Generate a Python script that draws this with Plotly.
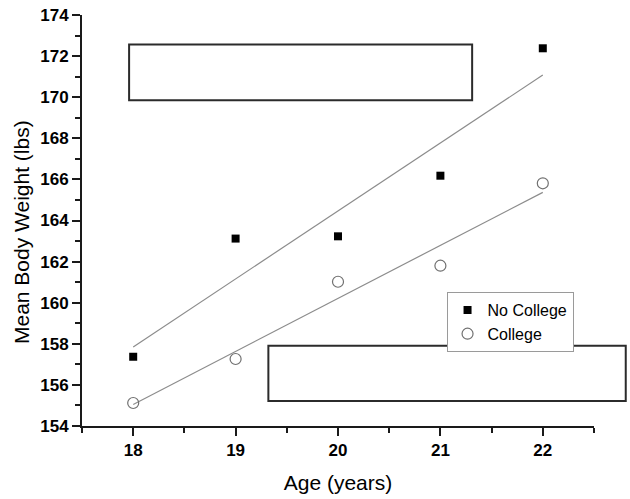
import plotly.graph_objects as go

# Data
ages = [18, 19, 20, 21, 22]
no_college = [157.37, 163.12, 163.23, 166.18, 172.38]
college = [155.12, 157.26, 161.02, 161.80, 165.81]

# Linear-fit end points (as drawn in the reference)
fit_ages = [18, 22]
fit_no_college = [157.85, 171.08]
fit_college = [155.05, 165.37]

FONT = "Arial, Liberation Sans, sans-serif"

fig = go.Figure()

# fit lines
fig.add_trace(go.Scatter(
    x=fit_ages, y=fit_no_college, mode="lines",
    line=dict(color="#8c8c8c", width=1.2), showlegend=False, hoverinfo="skip",
))
fig.add_trace(go.Scatter(
    x=fit_ages, y=fit_college, mode="lines",
    line=dict(color="#8c8c8c", width=1.2), showlegend=False, hoverinfo="skip",
))

# data points
fig.add_trace(go.Scatter(
    x=ages, y=no_college, mode="markers", name="No College",
    marker=dict(symbol="square", size=8, color="#000000", line=dict(width=0)),
))
fig.add_trace(go.Scatter(
    x=ages, y=college, mode="markers", name="College",
    marker=dict(symbol="circle-open", size=11, color="#707070", line=dict(width=1.2)),
))

# empty (blanked) boxes from the original figure
box_line = dict(color="#2b2b2b", width=2)
fig.add_shape(type="rect", xref="paper", yref="paper",
              x0=0.092, x1=0.762, y0=0.7925, y1=0.928,
              line=box_line, fillcolor="white", layer="above")
fig.add_shape(type="rect", xref="paper", yref="paper",
              x0=0.364, x1=1.062, y0=0.061, y1=0.195,
              line=box_line, fillcolor="white", layer="above")

# y title as an annotation so it sits where the original has it
fig.add_annotation(
    text="Mean Body Weight (lbs)", textangle=-90,
    xref="paper", yref="paper", x=0, y=0.472,
    xanchor="center", yanchor="middle", xshift=-61,
    showarrow=False, font=dict(size=21, family=FONT),
)

fig.update_layout(
    width=630,
    height=499,
    margin=dict(l=82, r=36, t=15, b=73),
    plot_bgcolor="white",
    paper_bgcolor="white",
    font=dict(family=FONT, color="#000000"),
    legend=dict(
        x=0.712, y=0.253, xanchor="left", yanchor="middle",
        bordercolor="#9a9a9a", borderwidth=1, bgcolor="white",
        font=dict(size=16, family=FONT),
        tracegroupgap=0, itemwidth=30,
    ),
)

fig.update_xaxes(
    range=[17.5, 22.5],
    tick0=18, dtick=1,
    automargin=False,
    showgrid=False, zeroline=False,
    showline=True, linecolor="#1a1a1a", linewidth=2,
    ticks="outside", ticklen=8, tickwidth=1.5, tickcolor="#1a1a1a",
    minor=dict(ticks="outside", ticklen=5, dtick=0.5, tick0=17.5, tickcolor="#1a1a1a", tickwidth=1.5),
    tickfont=dict(size=17, family=FONT, weight="bold"),
    title=dict(text="Age (years)", font=dict(size=21, family=FONT), standoff=16),
)

fig.update_yaxes(
    range=[154, 174],
    tick0=154, dtick=2,
    automargin=False,
    showgrid=False, zeroline=False,
    showline=True, linecolor="#1a1a1a", linewidth=2,
    ticks="outside", ticklen=8, tickwidth=1.5, tickcolor="#1a1a1a",
    minor=dict(ticks="outside", ticklen=5, dtick=1, tickcolor="#1a1a1a", tickwidth=1.5),
    tickfont=dict(size=17, family=FONT, weight="bold"),
)

# drop the browser's default body margin so the figure sits at the page corner
fig.write_html(
    "out.html",
    config={"displayModeBar": False},
    post_script="document.body.style.margin='0';",
)
